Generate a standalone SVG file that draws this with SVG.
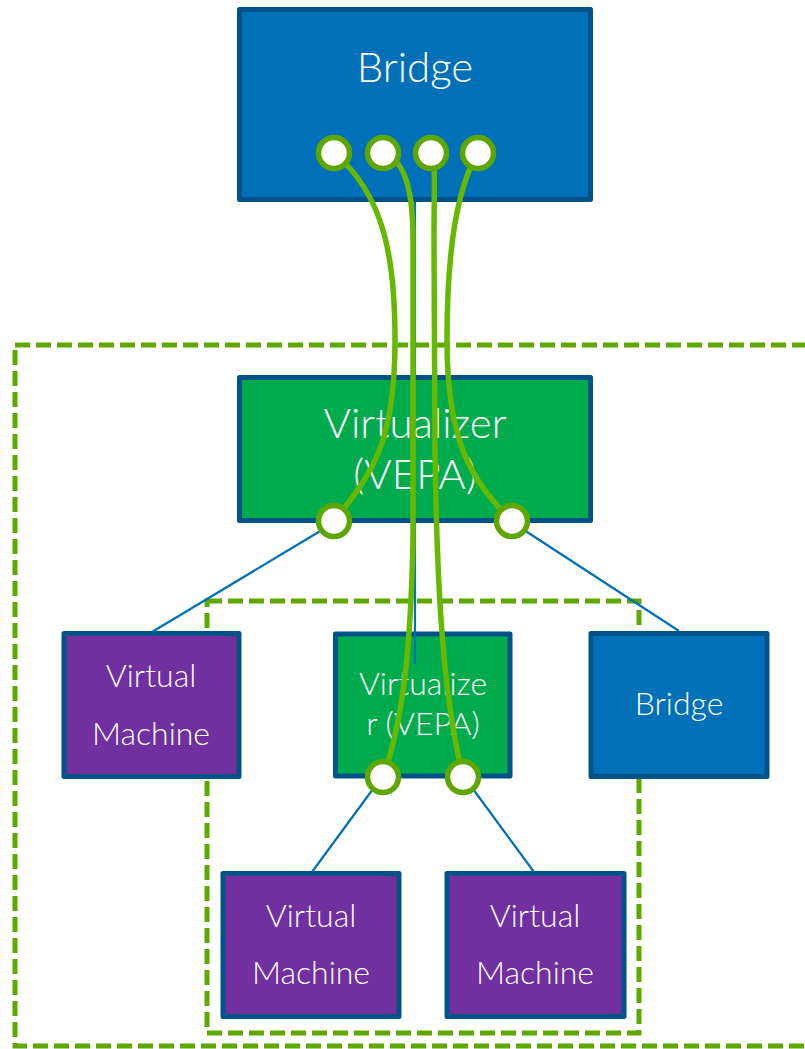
<svg xmlns="http://www.w3.org/2000/svg" width="805" height="1049" viewBox="0 0 805 1049">
  <style>
    .frame { fill: none; stroke: #5FA800; stroke-width: 5; stroke-dasharray: 15 6; }
    .box { stroke: #005288; stroke-width: 5; stroke-linejoin: round; }
    .bridge { fill: #0070B8; }
    .virt { fill: #00AB4E; }
    .vm { fill: #7030A0; }
    .label { font-family: "Lato", "Liberation Sans", sans-serif; font-weight: 300; fill: #FFFFFF; text-anchor: middle; }
    .big { font-size: 42px; }
    .small { font-size: 32px; }
    .link { fill: none; stroke: #0070B8; stroke-width: 2.2; }
    .wire { fill: none; stroke: #66B800; stroke-width: 5.5; stroke-linecap: round; }
    .port { fill: #FFFFFF; stroke: #5EA600; stroke-width: 5.5; }
  </style>

  <!-- dashed containment frames -->
  <g id="frames">
    <rect class="frame" x="15" y="345" width="800" height="701"/>
    <rect class="frame" x="207" y="601" width="432" height="432"/>
  </g>

  <g id="bridge-top">
    <rect class="box bridge" x="239.5" y="9.5" width="351" height="190"/>
    <text class="label big" x="415" y="82">Bridge</text>
  </g>

  <g id="vm-left">
    <rect class="box vm" x="64" y="633.5" width="175" height="143"/>
    <text class="label small" x="151" y="687">Virtual</text>
    <text class="label small" x="151" y="745">Machine</text>
  </g>

  <g id="virtualizer-inner">
    <rect class="box virt" x="335.5" y="634" width="174.5" height="142"/>
    <text class="label small" x="423" y="695">Virtualize</text>
    <text class="label small" x="423" y="735">r (VEPA)</text>
  </g>

  <g id="bridge-right">
    <rect class="box bridge" x="591" y="633.5" width="176" height="143"/>
    <text class="label small" x="679" y="715">Bridge</text>
  </g>

  <g id="vm-bottom-left">
    <rect class="box vm" x="223" y="873.5" width="176" height="143"/>
    <text class="label small" x="311" y="927">Virtual</text>
    <text class="label small" x="311" y="984">Machine</text>
  </g>

  <g id="vm-bottom-right">
    <rect class="box vm" x="447" y="873.5" width="177" height="143"/>
    <text class="label small" x="535" y="927">Virtual</text>
    <text class="label small" x="535" y="984">Machine</text>
  </g>

  <!-- blue links; the vertical one passes behind the outer virtualizer -->
  <g id="connectors">
    <path class="link" d="M415,202 V375 M415,523 V664"/>
    <path class="link" d="M322,530 L152,632"/>
    <path class="link" d="M524,530 L679,631"/>
    <path class="link" d="M373,789 L312,872"/>
    <path class="link" d="M473,789 L534,872"/>
  </g>

  <g id="virtualizer-outer">
    <rect class="box virt" x="239.5" y="377.5" width="351" height="143"/>
    <text class="label big" x="415" y="438">Virtualizer</text>
    <text class="label big" x="415" y="489">(VEPA)</text>
  </g>

  <!-- green wires between bridge ports and virtualizer ports -->
  <g id="wires">
    <path class="wire" d="M334,153 C385,195 395,260 395,340 C395,440 375,470 334,521"/>
    <path class="wire" d="M383,153 C405,160 413,190 413,240 L413,540 C411,640 404,720 383,776"/>
    <path class="wire" d="M431,153 C436,160 434,180 434,240 L435,450 C437,600 444,700 463,776"/>
    <path class="wire" d="M478,153 C455,190 447,260 447,340 C447,440 470,480 512,521"/>
  </g>

  <g id="ports">
    <circle class="port" cx="334" cy="153" r="15.5"/>
    <circle class="port" cx="383" cy="153" r="15.5"/>
    <circle class="port" cx="431" cy="153" r="15.5"/>
    <circle class="port" cx="478" cy="153" r="15.5"/>
    <circle class="port" cx="334" cy="521" r="15.5"/>
    <circle class="port" cx="512" cy="521" r="15.5"/>
    <circle class="port" cx="383" cy="777" r="15.5"/>
    <circle class="port" cx="463" cy="777" r="15.5"/>
  </g>
</svg>
